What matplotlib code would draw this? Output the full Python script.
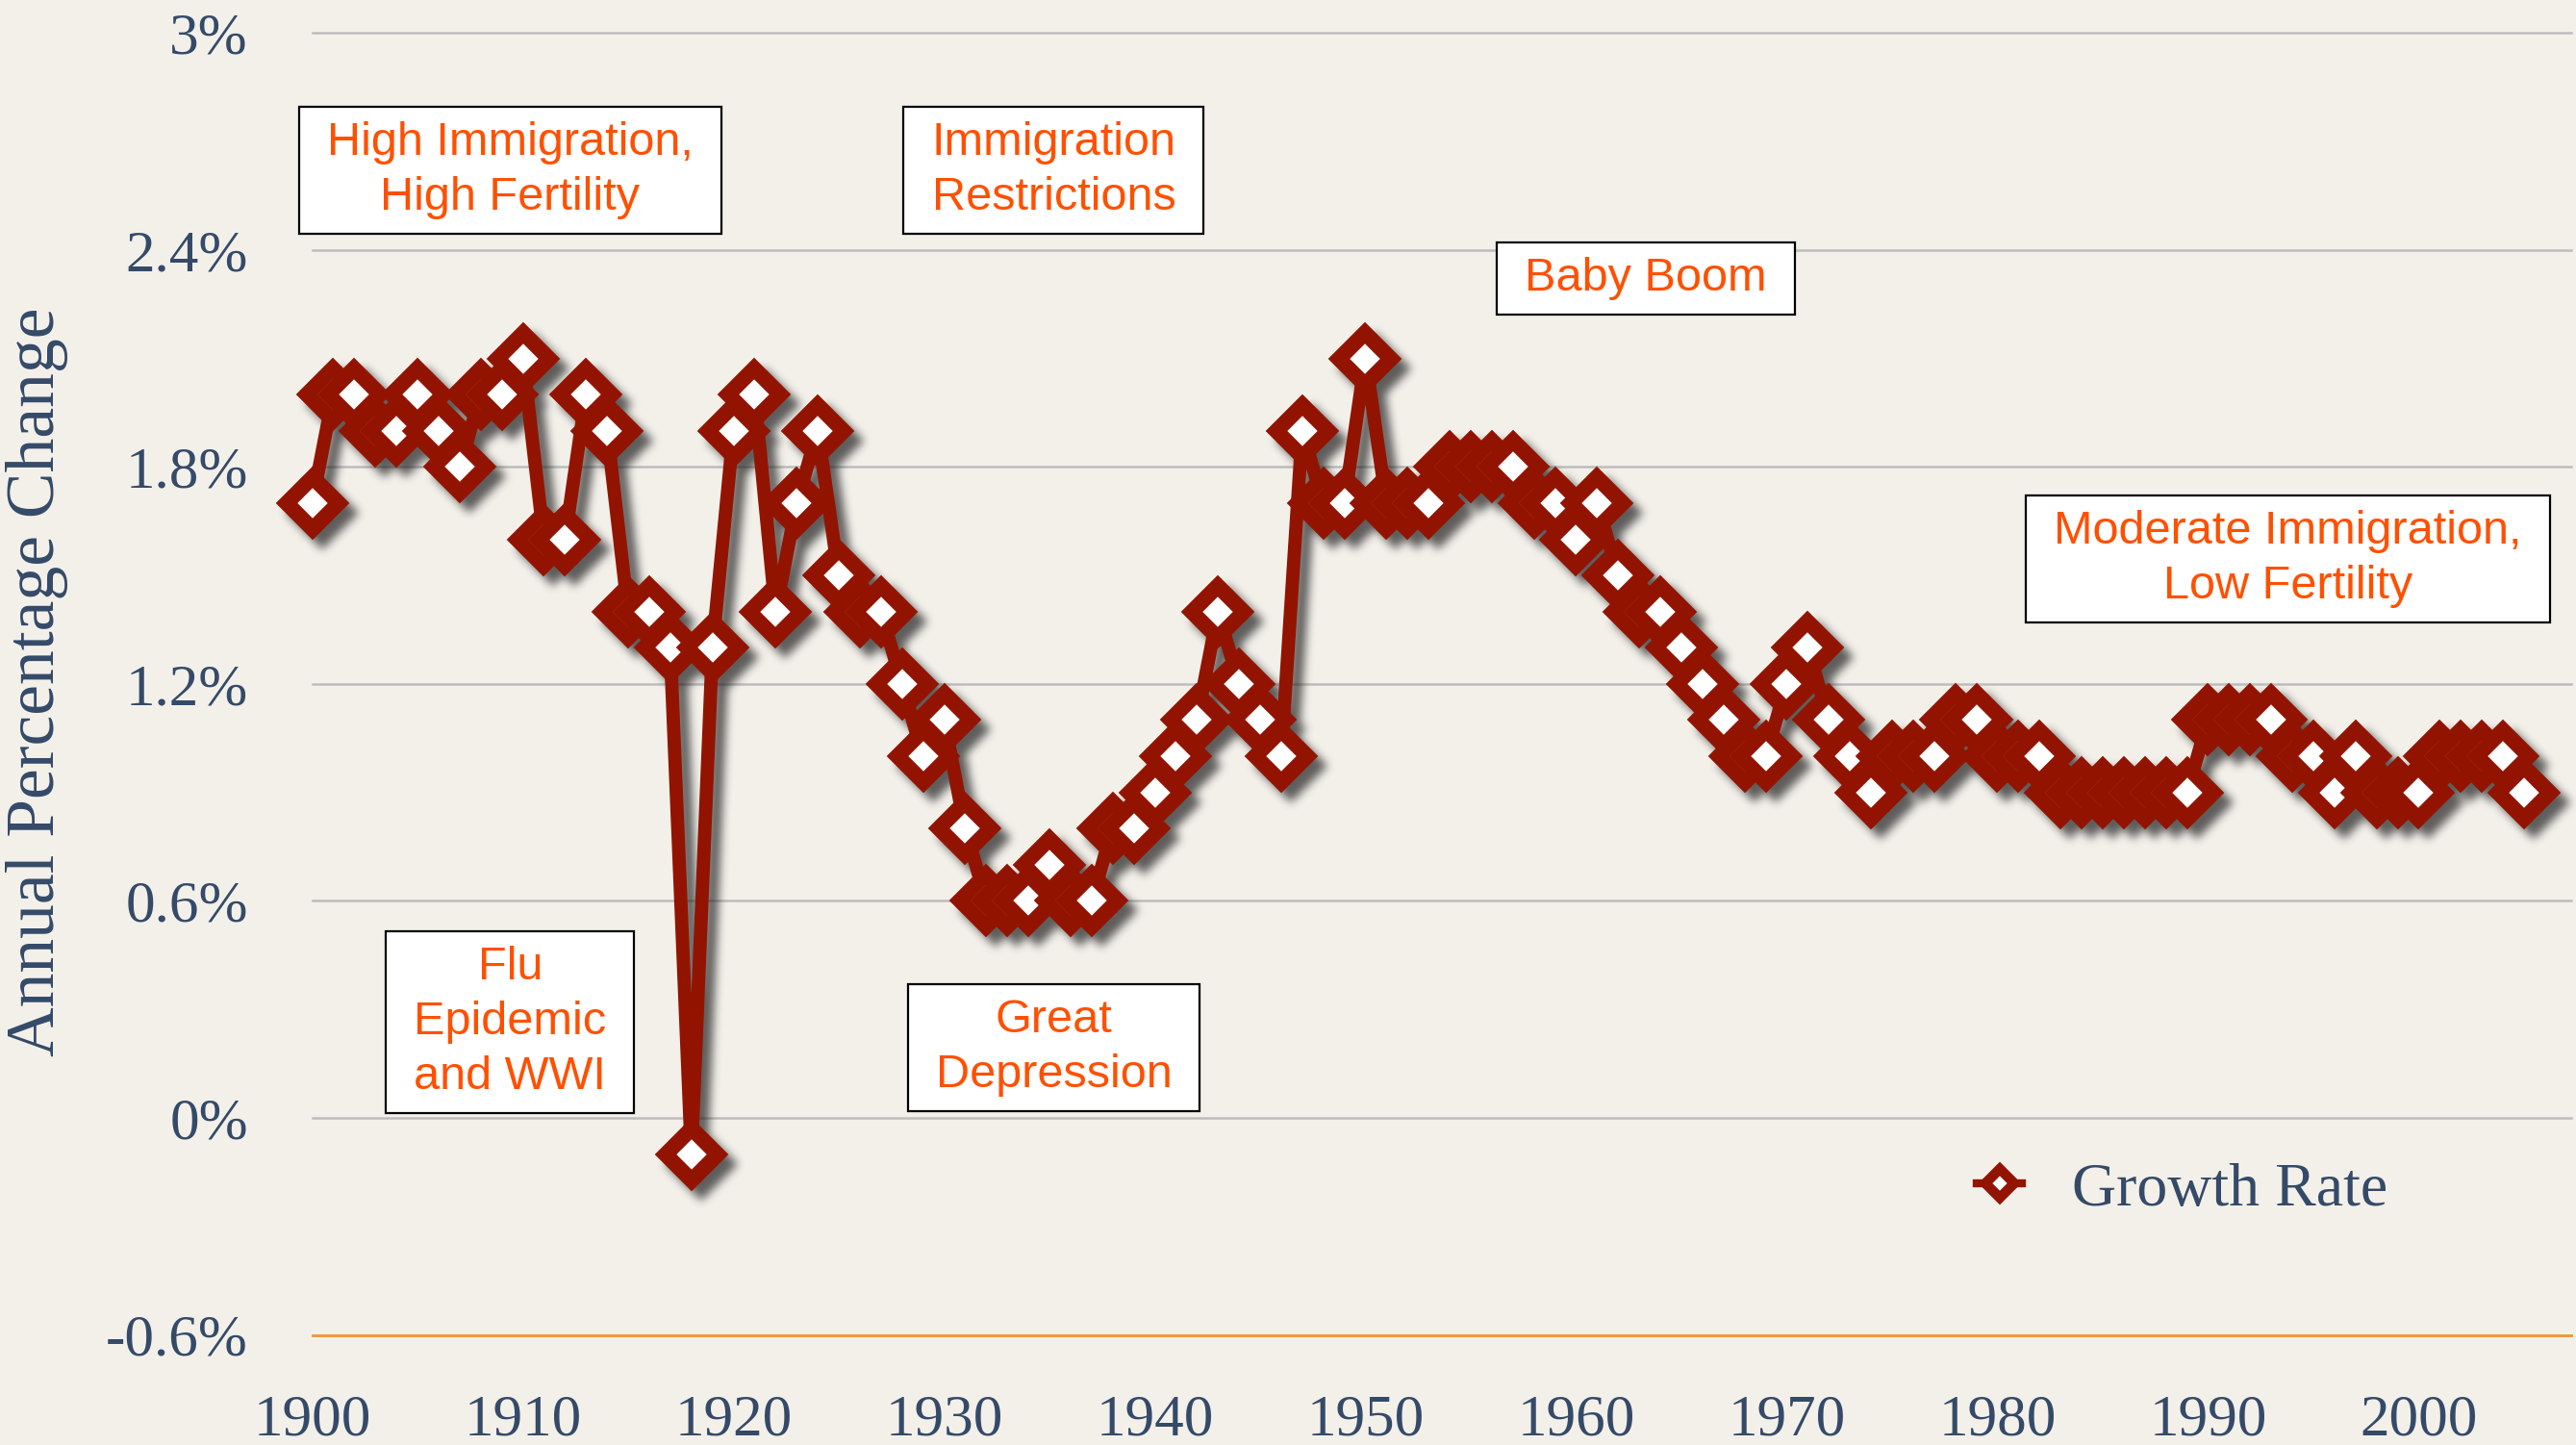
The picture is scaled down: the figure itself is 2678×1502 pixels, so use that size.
import numpy as np
import matplotlib
matplotlib.use("Agg")
import matplotlib.pyplot as plt
from matplotlib.lines import Line2D
from matplotlib.patches import Rectangle

# annual population growth, percent
years = np.arange(1900, 2006)
growth = [1.7, 2.0, 2.0, 1.9, 1.9, 2.0, 1.9, 1.8, 2.0, 2.0,   # 1900s
          2.1, 1.6, 1.6, 2.0, 1.9, 1.4, 1.4, 1.3, -0.1, 1.3,  # 1910s
          1.9, 2.0, 1.4, 1.7, 1.9, 1.5, 1.4, 1.4, 1.2, 1.0,   # 1920s
          1.1, 0.8, 0.6, 0.6, 0.6, 0.7, 0.6, 0.6, 0.8, 0.8,   # 1930s
          0.9, 1.0, 1.1, 1.4, 1.2, 1.1, 1.0, 1.9, 1.7, 1.7,   # 1940s
          2.1, 1.7, 1.7, 1.7, 1.8, 1.8, 1.8, 1.8, 1.7, 1.7,   # 1950s
          1.6, 1.7, 1.5, 1.4, 1.4, 1.3, 1.2, 1.1, 1.0, 1.0,   # 1960s
          1.2, 1.3, 1.1, 1.0, 0.9, 1.0, 1.0, 1.0, 1.1, 1.1,   # 1970s
          1.0, 1.0, 1.0, 0.9, 0.9, 0.9, 0.9, 0.9, 0.9, 0.9,   # 1980s
          1.1, 1.1, 1.1, 1.1, 1.0, 1.0, 0.9, 1.0, 0.9, 0.9,   # 1990s
          0.9, 1.0, 1.0, 1.0, 1.0, 0.9]                       # 2000s

xticks = [1900, 1910, 1920, 1930, 1940, 1950, 1960, 1970, 1980, 1990, 2000]
yticks = [-0.6, 0, 0.6, 1.2, 1.8, 2.4, 3.0]
ytick_labels = ["-0.6%", "0%", "0.6%", "1.2%", "1.8%", "2.4%", "3%"]

# (text, x, y) for the callout boxes
notes = [("High Immigration,\nHigh Fertility", 1909.4, 2.62),
         ("Immigration\nRestrictions", 1935.2, 2.62),
         ("Baby Boom", 1963.3, 2.32),
         ("Moderate Immigration,\nLow Fertility", 1993.8, 1.545),
         ("Flu\nEpidemic\nand WWI", 1909.4, 0.264),
         ("Great\nDepression", 1935.2, 0.195)]

BG = "#f3f0ea"
RED = "#921400"
INK = "#344a68"
NOTE = "#ff5000"
SERIF = "Liberation Serif"


def box_blur(a, r):
    k = 2 * r + 1
    c = np.cumsum(np.pad(a, ((r + 1, r), (0, 0))), axis=0)
    a = (c[k:] - c[:-k]) / k
    c = np.cumsum(np.pad(a, ((0, 0), (r + 1, r))), axis=1)
    return (c[:, k:] - c[:, :-k]) / k


def drop_shadow(im, dpi):
    pad = 30
    alpha = np.pad(im[:, :, 3], pad)
    for _ in range(3):
        alpha = box_blur(alpha, 4)
    out = np.zeros(alpha.shape + (4,))
    out[..., :3] = 0.12
    out[..., 3] = np.clip(alpha * 0.7, 0, 1)
    return out, -pad + 10, -pad - 10


fig = plt.figure(figsize=(26.78, 15.02), dpi=100, facecolor=BG)
ax = fig.add_axes([0.1212, 0.0762, 0.877, 0.901])
ax.set_facecolor(BG)

style = dict(marker="D", ms=27.5, mew=11.5, lw=10, solid_joinstyle="round",
             clip_on=False)
shadow, = ax.plot(years, growth, color="k", mfc="k", mec="k", zorder=2, **style)
shadow.set_agg_filter(drop_shadow)
shadow.set_rasterized(True)
ax.plot(years, growth, color=RED, mfc="white", mec=RED, zorder=3, **style)

ax.set_xlim(1900, 2007.25)
ax.set_ylim(-0.6, 3.0)
ax.set_xticks(xticks)
ax.set_yticks(yticks)
ax.set_yticklabels(ytick_labels)
ax.tick_params(length=0, labelsize=44, labelcolor=INK)
ax.tick_params(axis="y", pad=48)
ax.tick_params(axis="x", pad=44)
for lab in ax.get_xticklabels() + ax.get_yticklabels():
    lab.set_family(SERIF)

for side in ["top", "right", "left"]:
    ax.spines[side].set_visible(False)
ax.spines["bottom"].set_color("#f29632")
ax.spines["bottom"].set_linewidth(2)
ax.grid(axis="y", color="#bdbdbd", lw=1.8)
ax.grid(axis="x", visible=False)
ax.set_axisbelow(True)
for gl in ax.get_ygridlines():
    gl.set_clip_on(False)

fig.text(0.0145, 0.528, "Annual Percentage Change", rotation=90, ha="center",
         va="center", fontsize=51.5, family=SERIF, color=INK)

handle = Line2D([], [], color=RED, lw=6, marker="D", ms=15, mew=7.5,
                mfc="white", mec=RED)
leg = ax.legend([handle], ["Growth Rate"], loc="center left",
                bbox_to_anchor=(1979.0, -0.2), bbox_transform=ax.transData,
                frameon=False, fontsize=46, handlelength=0.75,
                handletextpad=0.8, borderpad=0, borderaxespad=0)
for t in leg.get_texts():
    t.set_color(INK)
    t.set_family(SERIF)

texts = []
for label, x, y in notes:
    texts.append(ax.text(x, y, label, ha="center", va="center",
                         multialignment="center", fontsize=35,
                         family="Liberation Sans", color=NOTE,
                         linespacing=1.34, zorder=6))

# white framed boxes sized around each callout
fig.canvas.draw()
renderer = fig.canvas.get_renderer()
inv = ax.transData.inverted()
padx, pady = 29, 15
for t in texts:
    bb = t.get_window_extent(renderer)
    (x0, y0), (x1, y1) = inv.transform([(bb.x0 - padx, bb.y0 - pady),
                                        (bb.x1 + padx, bb.y1 + pady)])
    ax.add_patch(Rectangle((x0, y0), x1 - x0, y1 - y0, fc="white", ec="black",
                           lw=1.6, zorder=5, clip_on=False))

fig.savefig("out.png", dpi=100, facecolor=BG)
